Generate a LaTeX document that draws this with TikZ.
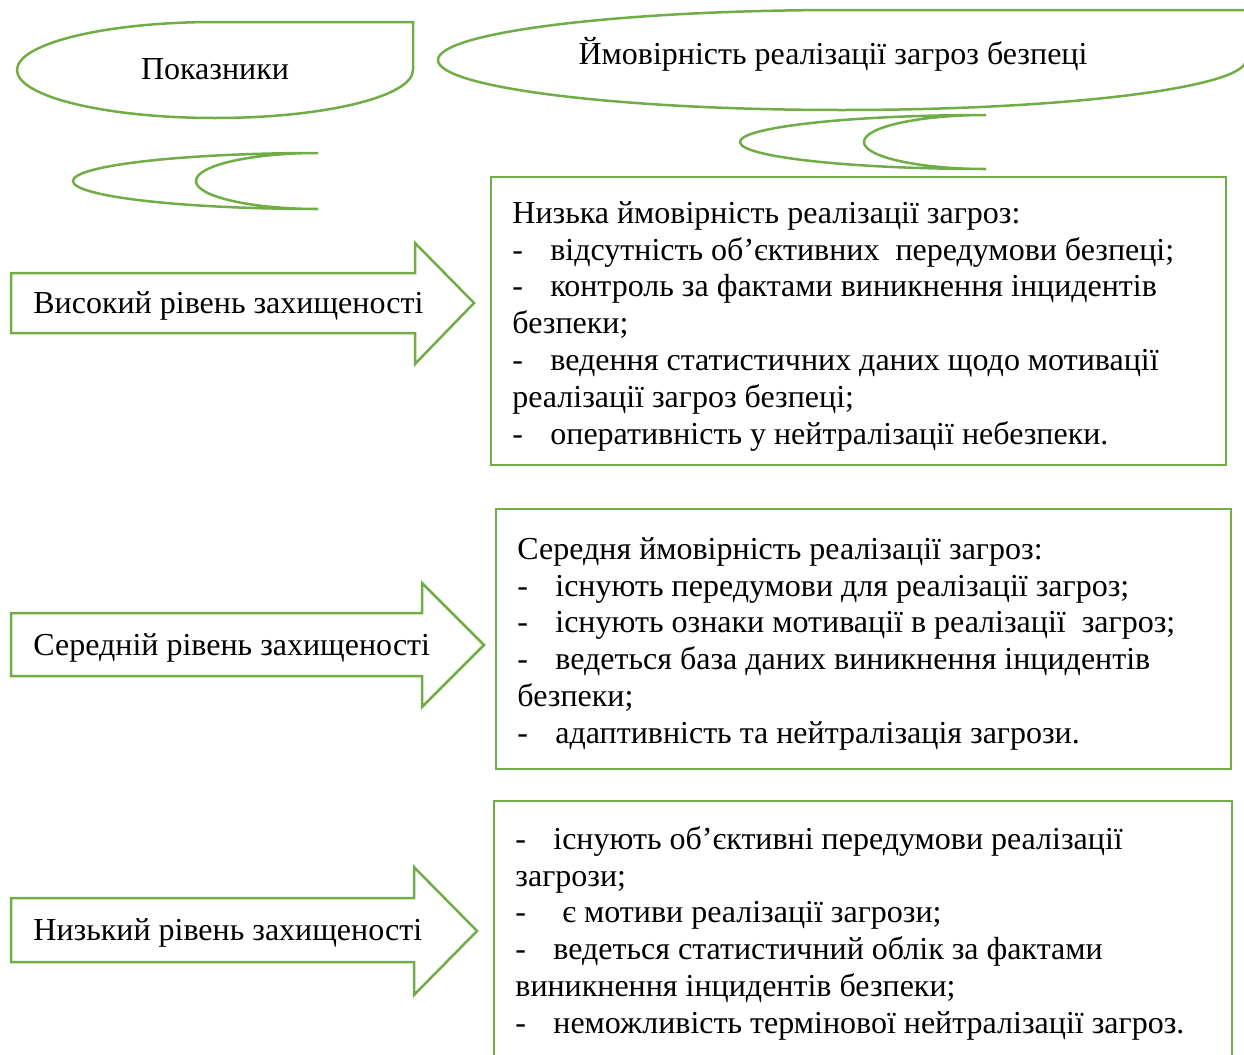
\documentclass[tikz,border=0pt]{standalone}
\usepackage{fontspec}
\setmainfont{Liberation Serif}
\usepackage{tikz}
\definecolor{shapegreen}{RGB}{112,173,71}
\newcommand{\dsh}{\makebox[19pt][l]{-}}

\begin{document}
\begin{tikzpicture}[
  x=0.5pt, y=-0.5pt,
  outline/.style={draw=shapegreen, line width=1.25pt},
  lbl/.style={font=\fontsize{16pt}{18.4pt}\selectfont, inner sep=0pt},
  listtxt/.style={lbl, align=left, anchor=north west}
]
\useasboundingbox (0,0) rectangle (1244,1055);

% headline ribbons
\draw[outline] (413,22) -- (215,22)
  arc[start angle=90, end angle=360, x radius=99pt, y radius=24pt] -- cycle;
\node[lbl] (indic) at (215,69) {Показники};

\draw[outline] (1246,10) -- (842,10)
  arc[start angle=90, end angle=360, x radius=202pt, y radius=25pt] -- cycle;
\node[lbl] (prob) at (833,54) {Ймовірність реалізації загроз безпеці};

% crescents
\draw[outline] (318,153)
  arc[start angle=90, end angle=270, x radius=122.5pt, y radius=14pt]
  arc[start angle=270, end angle=90, x radius=61pt, y radius=14pt] -- cycle;
\draw[outline] (986,115)
  arc[start angle=90, end angle=270, x radius=123pt, y radius=13.5pt]
  arc[start angle=270, end angle=90, x radius=61pt, y radius=13.5pt] -- cycle;

% level arrows
\draw[outline] (11,273) -- (415,273) -- (415,243) -- (474,303)
  -- (415,364) -- (415,333) -- (11,333) -- cycle;
\node[lbl, anchor=west] (high) at (33,306) {Високий рівень захищеності};

\draw[outline] (11,613) -- (422,613) -- (422,583) -- (484,645)
  -- (422,707) -- (422,676) -- (11,676) -- cycle;
\node[lbl, anchor=west] (mid) at (33,648) {Середній рівень захищеності};

\draw[outline] (11,898) -- (414,898) -- (414,867) -- (477,931)
  -- (414,995) -- (414,962) -- (11,962) -- cycle;
\node[lbl, anchor=west] (low) at (33,933) {Низький рівень захищеності};

% description boxes
\draw[outline] (491,177) rectangle (1226,465);
\node[listtxt] (lowprob) at (512,201) {Низька ймовірність реалізації загроз:\\
  \dsh відсутність об’єктивних\ \ передумови безпеці;\\
  \dsh контроль за фактами виникнення інцидентів\\
  безпеки;\\
  \dsh ведення статистичних даних щодо мотивації\\
  реалізації загроз безпеці;\\
  \dsh оперативність у нейтралізації небезпеки.};

\draw[outline] (496,509) rectangle (1231,769);
\node[listtxt] (midprob) at (517,537) {Середня ймовірність реалізації загроз:\\
  \dsh існують передумови для реалізації загроз;\\
  \dsh існують ознаки мотивації в реалізації\ \ загроз;\\
  \dsh ведеться база даних виникнення інцидентів\\
  безпеки;\\
  \dsh адаптивність та нейтралізація загрози.};

\draw[outline] (494,801) rectangle (1232,1070);
\node[listtxt] (highprob) at (515,826) {\dsh існують об’єктивні передумови реалізації\\
  загрози;\\
  \dsh\hspace{4.5pt}є мотиви реалізації загрози;\\
  \dsh ведеться статистичний облік за фактами\\
  виникнення інцидентів безпеки;\\
  \dsh неможливість термінової нейтралізації загроз.};
\end{tikzpicture}
\end{document}
